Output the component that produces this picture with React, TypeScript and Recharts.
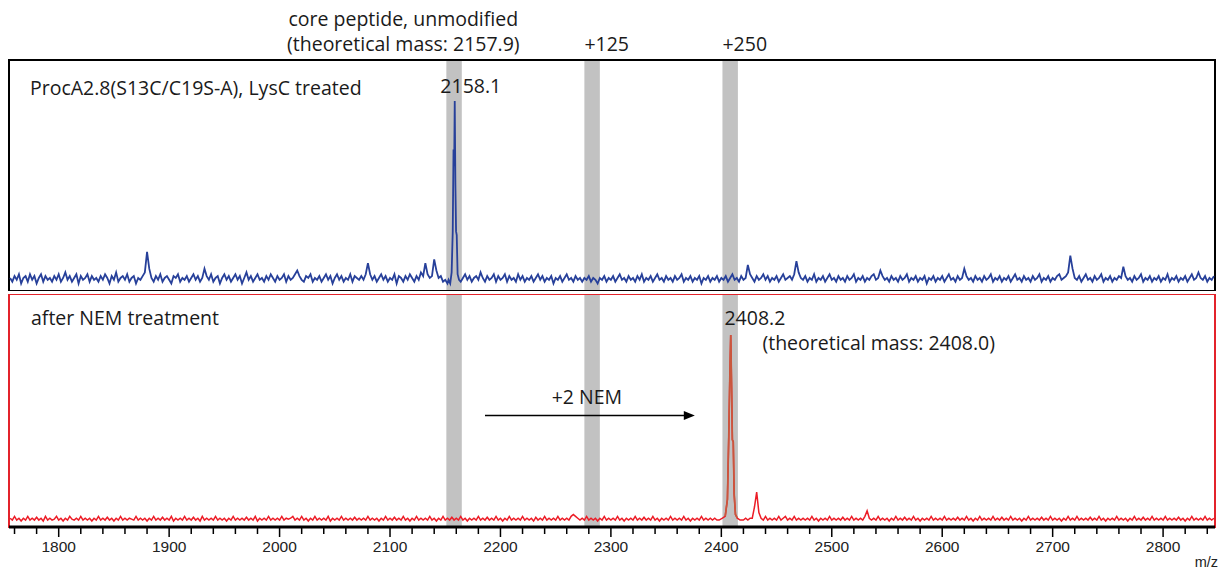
import React from 'react';
import { LineChart, Line, XAxis, YAxis, ReferenceArea, ReferenceLine, Label } from 'recharts';

// sampling grid of the noise traces (m/z)
const MZ_START = 1756;
const MZ_STEP = 2;
const MZ_DOMAIN: [number, number] = [1755, 2847];

// top trace: ProcA2.8(S13C/C19S-A), LysC treated (relative intensity)
const blueNoise = [
  5, 3, 6, 4, 7, 2, 5, 6, 3, 7, 4, 6, 2, 5, 7, 3, 6, 4, 5, 3,
  6, 4, 7, 3, 5, 8, 4, 6, 3, 5, 7, 2, 6, 4, 5, 7, 3, 6, 4, 5,
  3, 6, 4, 7, 5, 2, 6, 4, 8, 3, 5, 6, 4, 7, 3, 5, 6, 2, 5, 4,
  6, 8, 19, 10, 5, 3, 6, 4, 7, 3, 5, 6, 4, 2, 6, 5, 7, 3, 5, 4,
  6, 3, 5, 7, 4, 6, 3, 5, 10, 6, 4, 7, 3, 5, 6, 2, 5, 7, 4, 6,
  3, 5, 7, 4, 6, 2, 5, 8, 4, 6, 3, 5, 7, 4, 5, 3, 6, 4, 7, 5,
  3, 6, 4, 5, 7, 3, 6, 4, 5, 7, 9, 6, 4, 3, 6, 5, 7, 3, 5, 4,
  6, 3, 5, 7, 4, 6, 2, 5, 7, 4, 6, 3, 5, 4, 7, 3, 6, 5, 4, 6,
  4, 7, 13, 7, 4, 6, 3, 5, 7, 4, 6, 3, 5, 4, 7, 2, 6, 5, 3, 6,
  4, 7, 5, 3, 6, 4, 8, 6, 13, 7, 5, 6, 15, 9, 5, 6, 3, 4, 2, 4,
  5, 5, 5, 5, 3, 5, 7, 4, 6, 3, 5, 6, 4, 8, 5, 3, 6, 4, 5, 7,
  3, 6, 4, 5, 7, 3, 6, 4, 5, 3, 7, 4, 6, 3, 5, 4, 6, 3, 5, 7,
  4, 6, 3, 5, 4, 6, 2, 5, 4, 6, 3, 5, 7, 4, 5, 3, 6, 4, 5, 3,
  5, 4, 6, 3, 5, 4, 2, 5, 4, 6, 3, 5, 4, 6, 3, 5, 7, 4, 5, 3,
  6, 4, 5, 3, 6, 4, 7, 3, 5, 4, 6, 3, 5, 7, 4, 5, 3, 6, 4, 5,
  3, 6, 4, 5, 7, 3, 5, 4, 6, 3, 5, 4, 6, 2, 5, 4, 6, 3, 5, 4,
  6, 3, 5, 4, 6, 3, 5, 7, 4, 5, 3, 6, 4, 5, 12, 7, 5, 3, 6, 4,
  5, 7, 4, 6, 3, 5, 4, 6, 3, 5, 7, 4, 5, 6, 4, 7, 14, 8, 5, 4,
  6, 3, 5, 4, 7, 3, 5, 4, 6, 3, 5, 7, 4, 5, 3, 6, 4, 5, 3, 6,
  4, 5, 7, 3, 5, 4, 6, 3, 5, 4, 6, 7, 4, 5, 9, 6, 4, 5, 3, 6,
  4, 5, 3, 6, 4, 5, 7, 3, 5, 4, 6, 3, 5, 4, 6, 2, 5, 4, 6, 3,
  5, 4, 6, 3, 5, 7, 4, 5, 3, 6, 4, 5, 10, 6, 4, 5, 3, 6, 4, 5,
  3, 6, 4, 5, 7, 3, 5, 4, 6, 3, 5, 4, 6, 3, 5, 7, 4, 5, 3, 6,
  4, 5, 3, 6, 4, 5, 7, 3, 5, 4, 6, 3, 5, 4, 6, 7, 4, 5, 6, 8,
  17, 10, 5, 4, 6, 3, 5, 7, 4, 5, 3, 6, 4, 5, 7, 3, 5, 4, 6, 3,
  5, 4, 6, 5, 11, 6, 4, 5, 3, 6, 4, 5, 7, 3, 5, 4, 6, 3, 5, 4,
  6, 3, 5, 4, 7, 3, 5, 4, 6, 3, 5, 4, 6, 3, 5, 7, 4, 5, 8, 5,
  4, 6, 3, 5, 4, 6,
];
const bluePeakMz = [2153, 2154.5, 2155.8, 2156.8, 2157.5, 2158.1, 2158.6, 2159.2, 2159.8, 2160.4, 2161.2, 2162.5];
const bluePeakInt = [4, 2, 8, 30, 74, 65, 100, 55, 30, 28, 7, 4];

// bottom trace: after NEM treatment (relative intensity)
const redNoise = [
  2, 1, 3, 1, 2, 0.5, 2, 1, 3, 1, 2, 1, 2.5, 1, 2, 0.5, 3, 1, 2, 1,
  1.5, 3, 1, 2, 0.5, 2, 1, 3, 1.5, 1, 2, 1, 3, 1, 2, 1, 2, 0.5, 2, 1,
  3, 1, 2, 1, 2.5, 1, 2, 0.5, 2, 1, 3, 1, 2, 1, 2, 1.5, 1, 3, 1, 2,
  1, 2, 0.5, 2, 1, 3, 1, 2, 1, 2.5, 1, 2, 1, 3, 0.5, 2, 1, 2, 1, 3,
  1, 2, 1, 2.5, 1, 2, 0.5, 3, 1, 2, 1, 2, 1, 3, 1, 2, 1, 2, 0.5, 2,
  1, 3, 1, 2, 1, 2, 1, 2.5, 1, 2, 1, 3, 0.5, 2, 1, 2, 1, 3, 1, 2,
  1, 2, 1, 3, 1, 2, 1.5, 2, 3, 1, 2, 1, 3, 1, 2, 0.5, 2, 1, 3, 1,
  2, 1, 2, 1, 3, 0.5, 2, 1, 2, 1, 3, 1, 2, 1, 2, 1, 2.5, 1, 2, 1,
  2, 1, 3, 1, 2, 1, 2, 0.5, 2, 1, 3, 1, 2, 1, 2.5, 1, 2, 1, 3, 1,
  2, 0.5, 2, 1, 3, 1, 2, 1, 2, 1, 3, 1, 2, 0.5, 2, 1, 3, 1, 2, 1,
  2.5, 1, 2, 1, 3, 1, 2, 0.5, 2, 1, 2, 1, 3, 1, 2, 1, 2.5, 1, 2, 1,
  3, 1, 2, 0.5, 2, 1, 3, 1, 2, 1, 2, 1, 3, 1, 2, 1, 2, 0.5, 2.5, 1,
  2, 1, 3, 1, 2, 1, 2, 1, 3, 1, 2, 1, 2, 1, 3, 4, 3, 2, 1, 2,
  1, 3, 1, 2, 1, 2, 0.5, 2, 1, 3, 1, 2, 1, 2, 1, 3, 1, 2, 0.5, 2,
  1, 2, 1, 3, 1, 2, 1, 2.5, 1, 2, 1, 3, 1, 2, 0.5, 2, 1, 2, 1, 3,
  1, 2, 1, 2, 1, 3, 1, 2, 0.5, 2, 1, 2, 1, 3, 1, 2, 1, 2, 1, 2,
  1, 1, 1, 1, 1, 1, 1, 1, 1, 1, 1, 1, 1, 2, 1, 2, 2, 8, 16, 5,
  2, 1, 3, 1, 2, 1, 2, 1, 3, 1, 2, 3, 1, 2, 1, 3, 1, 2, 1, 2,
  1, 2, 1, 3, 1, 2, 0.5, 2, 1, 2, 1, 3, 1, 2, 1, 2, 1, 2.5, 1, 2,
  1, 3, 1, 2, 1, 2, 1, 3, 6, 2, 1, 2, 1, 3, 1, 2, 1, 2, 0.5, 2,
  1, 3, 1, 2, 1, 2.5, 1, 2, 1, 3, 1, 2, 0.5, 2, 1, 2, 1, 3, 1, 2,
  1, 2, 1, 3, 1, 2, 1, 2, 1, 2.5, 1, 2, 1, 3, 1, 2, 0.5, 2, 1, 3,
  1, 2, 1, 2, 1, 3, 1, 2, 1, 2.5, 1, 2, 1, 3, 1, 2, 1, 2, 0.5, 2,
  1, 3, 1, 2, 1, 2, 1, 2.5, 1, 2, 1, 3, 1, 2, 1, 2, 0.5, 2, 1, 3,
  1, 2, 1, 3, 1, 2, 1, 2, 1, 2.5, 1, 2, 1, 3, 1, 2, 0.5, 2, 1, 2,
  1, 3, 1, 2, 1, 2, 0.5, 2, 1, 3, 1, 2, 1, 2.5, 1, 2, 1, 3, 1, 2,
  1, 2, 1, 3, 1, 2, 1, 2, 1, 2.5, 1, 2, 0.5, 2, 1, 3, 1, 2, 1, 2,
  1, 3, 1, 2, 1, 2,
];
const redPeakMz = [2398, 2401, 2403.5, 2405.5, 2406.7, 2407.6, 2408.5, 2409.3, 2410, 2410.8, 2411.6, 2412.8, 2414.5, 2417];
const redPeakInt = [1, 2, 3, 12, 45, 75, 100, 72, 44, 43, 15, 4, 2, 1];

// shaded mass windows
const bandCenters = [2158, 2283, 2408];
const BAND_HALF = 7;

// y ranges of the two panels (relative intensity)
const TOP_Y: [number, number] = [-2, 122];
const BOTTOM_Y: [number, number] = [-2.7, 122];

// x-axis ticks
const axisTicks = [
  1760, 1780, 1800, 1820, 1840, 1860, 1880, 1900, 1920, 1940, 1960, 1980, 2000, 2020, 2040, 2060, 2080, 2100,
  2120, 2140, 2160, 2180, 2200, 2220, 2240, 2260, 2280, 2300, 2320, 2340, 2360, 2380, 2400, 2420, 2440, 2460,
  2480, 2500, 2520, 2540, 2560, 2580, 2600, 2620, 2640, 2660, 2680, 2700, 2720, 2740, 2760, 2780, 2800, 2820, 2840,
];
const majorTicks = [1800, 1900, 2000, 2100, 2200, 2300, 2400, 2500, 2600, 2700, 2800];

// arrow "+2 NEM"
const arrowFrom = { x: 2186, y: 57 };
const arrowTo = { x: 2376, y: 57 };

type Pt = { mz: number; v: number };
function buildSpectrum(noise: number[], peakMz: number[], peakInt: number[]): Pt[] {
  const lo = peakMz[0];
  const hi = peakMz[peakMz.length - 1];
  const pts: Pt[] = noise
    .map((v, i) => ({ mz: MZ_START + i * MZ_STEP, v }))
    .filter((p) => p.mz < lo || p.mz > hi);
  peakMz.forEach((m, i) => pts.push({ mz: m, v: peakInt[i] }));
  pts.sort((a, b) => a.mz - b.mz);
  return pts;
}

const blueData = buildSpectrum(blueNoise, bluePeakMz, bluePeakInt);
const redData = buildSpectrum(redNoise, redPeakMz, redPeakInt);
const redPeakData = redPeakMz
  .map((m, i) => ({ mz: m, v: redPeakInt[i] }))
  .filter((p) => p.mz >= 2403.5 && p.mz <= 2414.5);

const FONT = "'Open Sans', 'Noto Sans', sans-serif";
const TXT = { fontFamily: FONT, fontSize: 19.5, fill: '#1a1a1a' } as const;

const AxisTick = (props: any) => {
  const { x, y, payload } = props;
  const major = majorTicks.includes(payload.value);
  return (
    <g>
      <line x1={x} x2={x} y1={y} y2={y + (major ? 10 : 7)} stroke="#000" strokeWidth={1.5} />
      {major && (
        <text x={x} y={y + 25} textAnchor="middle" fontFamily="'Liberation Sans', Arial, sans-serif" fontSize={15.5} fill="#222">
          {payload.value}
        </text>
      )}
    </g>
  );
};

const MzLabel = (props: any) => {
  const vb = props.viewBox || {};
  return (
    <text x={vb.x + vb.width + 3} y={vb.y + 40} textAnchor="end" fontFamily="'Liberation Sans', Arial, sans-serif" fontSize={14.5} fill="#222">
      m/z
    </text>
  );
};

const topBandLabel = (i: number) => (props: any) => {
  const vb = props.viewBox || {};
  if (i === 0) {
    return (
      <g>
        <text {...TXT} x={vb.x - 43} y={vb.y - 34} textAnchor="middle">core peptide, unmodified</text>
        <text {...TXT} x={vb.x - 43} y={vb.y - 9} textAnchor="middle">(theoretical mass: 2157.9)</text>
        <text {...TXT} x={vb.x - 6} y={vb.y + 33} textAnchor="start">2158.1</text>
      </g>
    );
  }
  return (
    <text {...TXT} x={vb.x} y={vb.y - 9} textAnchor="start">
      {i === 1 ? '+125' : '+250'}
    </text>
  );
};

const bottomBandLabel = (i: number) => (props: any) => {
  if (i !== 2) return null;
  const vb = props.viewBox || {};
  return (
    <g>
      <text {...TXT} x={vb.x + 2} y={vb.y + 31} textAnchor="start">2408.2</text>
      <text {...TXT} x={vb.x + 40} y={vb.y + 56} textAnchor="start">(theoretical mass: 2408.0)</text>
    </g>
  );
};

const topFrameLabel = (props: any) => {
  const vb = props.viewBox || {};
  return (
    <text {...TXT} x={vb.x + 21} y={vb.y + 35} textAnchor="start">
      ProcA2.8(S13C/C19S-A), LysC treated
    </text>
  );
};

const bottomFrameLabel = (props: any) => {
  const vb = props.viewBox || {};
  return (
    <text {...TXT} x={vb.x + 22} y={vb.y + 31} textAnchor="start">
      after NEM treatment
    </text>
  );
};

const ArrowShape = (p: any) => {
  const { x1, y1, x2, y2 } = p;
  return (
    <g>
      <line x1={x1} y1={y1} x2={x2 - 8} y2={y2} stroke="#000" strokeWidth={1.6} />
      <polygon points={`${x2},${y2} ${x2 - 11},${y2 - 4.5} ${x2 - 11},${y2 + 4.5}`} fill="#000" />
      <text {...TXT} x={(x1 + x2) / 2 - 3} y={y1 - 11} textAnchor="middle">+2 NEM</text>
    </g>
  );
};

export default function App() {
  return (
    <div style={{ position: 'absolute', left: 0, top: 0, width: 1223, height: 571, background: '#fff' }}>
      <div style={{ position: 'absolute', left: 0, top: 0 }}>
        <LineChart width={1223} height={291} margin={{ top: 60, right: 8, bottom: 0, left: 9 }}>
          <XAxis type="number" dataKey="mz" domain={MZ_DOMAIN} hide allowDataOverflow />
          <YAxis type="number" domain={TOP_Y} hide allowDataOverflow />
          {bandCenters.map((c, i) => (
            <ReferenceArea
              key={`tb${i}`}
              x1={c - BAND_HALF}
              x2={c + BAND_HALF}
              y1={TOP_Y[0]}
              y2={TOP_Y[1]}
              fill="#c2c2c2"
              fillOpacity={1}
              stroke="none"
              ifOverflow="visible"
              label={topBandLabel(i)}
            />
          ))}
          <Line
            data={blueData}
            dataKey="v"
            type="linear"
            stroke="#27409a"
            strokeWidth={1.8}
            dot={false}
            isAnimationActive={false}
          />
          <ReferenceArea
            x1={MZ_DOMAIN[0]}
            x2={MZ_DOMAIN[1]}
            y1={TOP_Y[0]}
            y2={TOP_Y[1]}
            fill="none"
            fillOpacity={0}
            stroke="#000"
            strokeWidth={2}
            ifOverflow="visible"
            label={topFrameLabel}
          />
        </LineChart>
      </div>
      <div style={{ position: 'absolute', left: 0, top: 294 }}>
        <LineChart width={1223} height={277} margin={{ top: 0, right: 8, bottom: 0, left: 9 }}>
          <XAxis
            type="number"
            dataKey="mz"
            domain={MZ_DOMAIN}
            ticks={axisTicks}
            interval={0}
            tick={AxisTick}
            tickLine={false}
            tickSize={0}
            tickMargin={0}
            axisLine={{ stroke: '#000', strokeWidth: 3 }}
            height={44}
            allowDataOverflow
          >
            <Label content={MzLabel} />
          </XAxis>
          <YAxis type="number" domain={BOTTOM_Y} hide allowDataOverflow />
          {bandCenters.map((c, i) => (
            <ReferenceArea
              key={`bb${i}`}
              x1={c - BAND_HALF}
              x2={c + BAND_HALF}
              y1={BOTTOM_Y[0]}
              y2={BOTTOM_Y[1]}
              fill="#c2c2c2"
              fillOpacity={1}
              stroke="none"
              ifOverflow="visible"
              label={bottomBandLabel(i)}
            />
          ))}
          <Line
            data={redData}
            dataKey="v"
            type="linear"
            stroke="#ec1c26"
            strokeWidth={1.5}
            dot={false}
            isAnimationActive={false}
          />
          <Line
            data={redPeakData}
            dataKey="v"
            type="linear"
            stroke="#c9573d"
            strokeWidth={1.7}
            dot={false}
            isAnimationActive={false}
          />
          <ReferenceLine segment={[arrowFrom, arrowTo]} shape={ArrowShape} ifOverflow="visible" />
          <ReferenceArea
            x1={MZ_DOMAIN[0]}
            x2={MZ_DOMAIN[1]}
            y1={BOTTOM_Y[0]}
            y2={BOTTOM_Y[1]}
            fill="none"
            fillOpacity={0}
            stroke="#e3232b"
            strokeWidth={2}
            ifOverflow="visible"
            label={bottomFrameLabel}
          />
        </LineChart>
      </div>
    </div>
  );
}
